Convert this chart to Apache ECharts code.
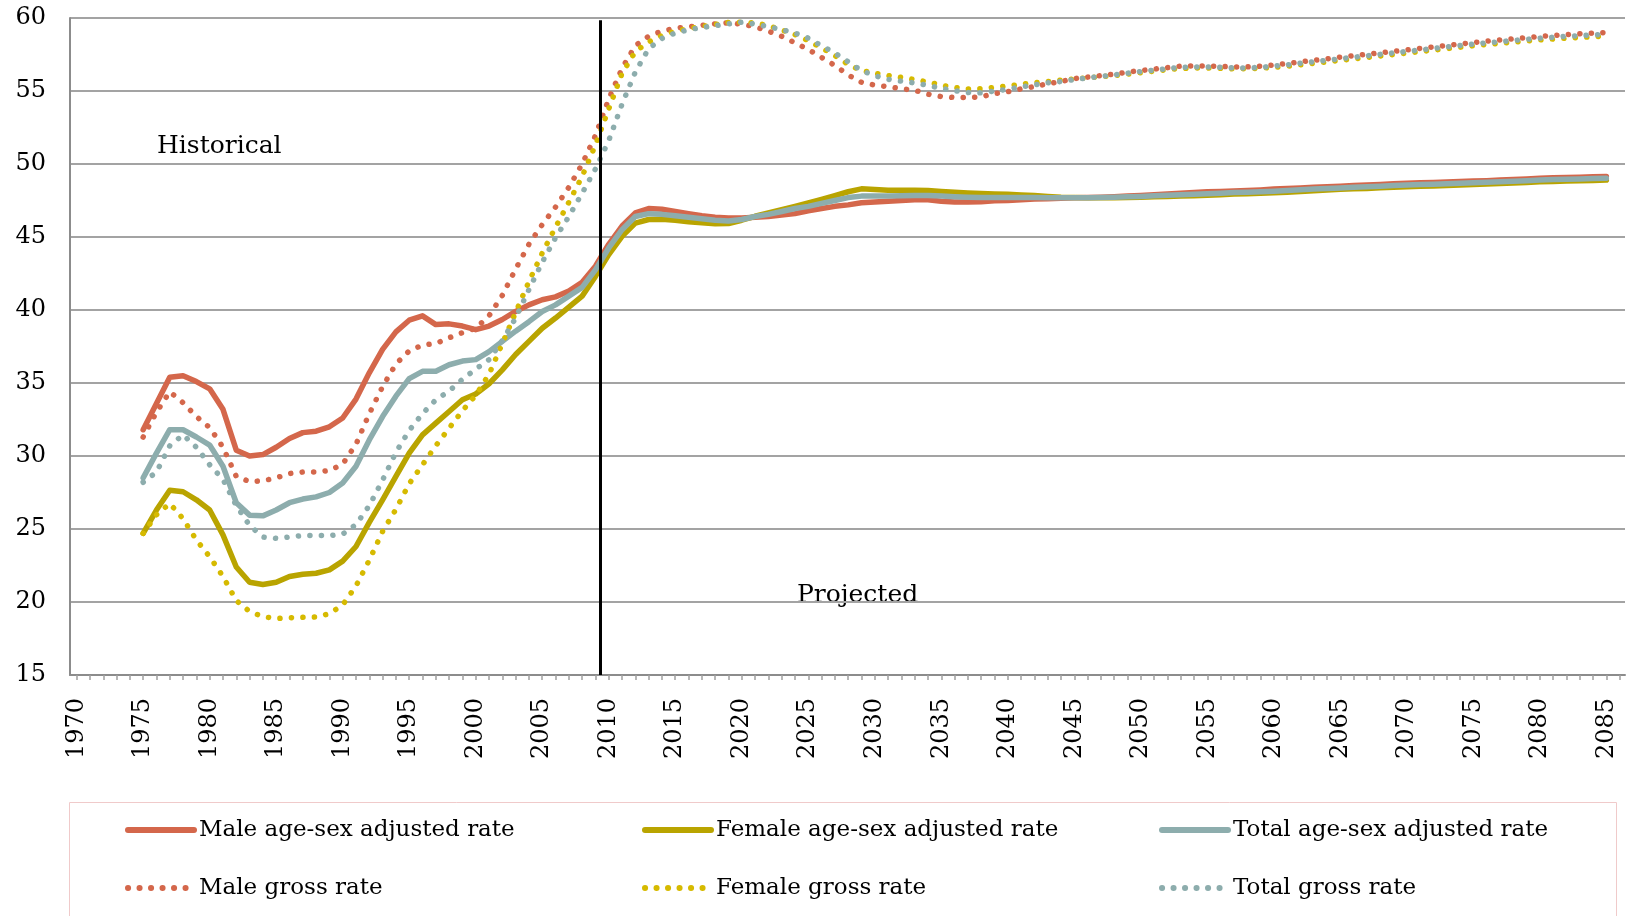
<!DOCTYPE html>
<html><head><meta charset="utf-8">
<script src="https://cdn.jsdelivr.net/npm/echarts@6/dist/echarts.min.js"></script>
<style>html,body{margin:0;padding:0;background:#fff}#c{width:1627px;height:916px}</style>
</head><body><div id="c"></div>
<script>
const FIRST_YEAR = 1975, LAST_YEAR = 2085;
const labelYears = [1970,1975,1980,1985,1990,1995,2000,2005,2010,2015,2020,2025,2030,2035,2040,2045,2050,2055,2060,2065,2070,2075,2080,2085];
const yTicks = [15,20,25,30,35,40,45,50,55,60];
const dividerYear = 2009.4;
const seriesNames = ['Male age-sex adjusted rate','Female age-sex adjusted rate','Total age-sex adjusted rate','Male gross rate','Female gross rate','Total gross rate'];

// 1975 .. 2085
const maleAdjusted = [
31.8,33.6,35.4,35.5,35.1,34.6,33.2,30.4,30.0,30.1,
30.6,31.2,31.6,31.7,32.0,32.6,33.9,35.7,37.3,38.5,
39.3,39.6,39.0,39.05,38.9,38.65,38.9,39.35,39.9,40.35,
40.7,40.9,41.3,41.9,43.0,44.5,45.75,46.65,46.95,46.9,
46.75,46.6,46.45,46.35,46.3,46.3,46.35,46.4,46.5,46.6,
46.8,46.95,47.1,47.2,47.35,47.4,47.45,47.5,47.55,47.55,
47.45,47.4,47.4,47.42,47.48,47.5,47.55,47.6,47.62,47.65,
47.68,47.7,47.72,47.75,47.8,47.85,47.9,47.95,48.0,48.05,
48.1,48.12,48.15,48.18,48.22,48.28,48.32,48.36,48.4,48.44,
48.48,48.52,48.56,48.6,48.64,48.68,48.71,48.74,48.77,48.8,
48.83,48.86,48.9,48.94,48.98,49.02,49.05,49.08,49.1,49.12,
49.15];
const femaleAdjusted = [
24.7,26.3,27.65,27.55,27.0,26.3,24.6,22.4,21.35,21.2,
21.35,21.75,21.9,21.97,22.2,22.8,23.8,25.45,27.0,28.6,
30.2,31.45,32.25,33.05,33.85,34.25,34.95,35.9,36.95,37.85,
38.75,39.45,40.2,40.95,42.3,43.8,45.05,45.95,46.2,46.22,
46.15,46.05,45.97,45.9,45.92,46.15,46.42,46.65,46.88,47.1,
47.33,47.58,47.83,48.1,48.3,48.25,48.2,48.2,48.2,48.18,
48.12,48.06,48.02,47.98,47.95,47.92,47.88,47.84,47.78,47.72,
47.7,47.68,47.68,47.68,47.7,47.72,47.75,47.78,47.8,47.83,
47.86,47.9,47.94,47.97,48.0,48.03,48.07,48.12,48.17,48.22,
48.27,48.3,48.33,48.37,48.4,48.44,48.47,48.5,48.53,48.56,
48.6,48.63,48.66,48.7,48.74,48.78,48.8,48.83,48.85,48.87,
48.9];
const totalAdjusted = [
28.5,30.2,31.8,31.8,31.3,30.75,29.3,26.8,25.95,25.9,
26.3,26.8,27.05,27.2,27.5,28.15,29.3,31.1,32.7,34.1,
35.3,35.8,35.8,36.25,36.5,36.6,37.15,37.85,38.55,39.2,
39.9,40.35,40.95,41.55,42.75,44.25,45.5,46.4,46.6,46.55,
46.45,46.35,46.25,46.15,46.1,46.2,46.4,46.55,46.75,46.95,
47.1,47.3,47.5,47.7,47.8,47.8,47.8,47.82,47.85,47.85,
47.8,47.75,47.72,47.7,47.7,47.7,47.7,47.7,47.68,47.68,
47.68,47.68,47.7,47.72,47.75,47.78,47.82,47.86,47.9,47.93,
47.97,48.0,48.04,48.07,48.1,48.14,48.18,48.23,48.28,48.32,
48.36,48.4,48.44,48.48,48.52,48.56,48.59,48.62,48.65,48.68,
48.72,48.75,48.78,48.82,48.86,48.9,48.93,48.96,48.98,49.0,
49.02];
const maleGross = [
31.3,33.0,34.4,33.65,32.7,31.95,30.6,28.6,28.25,28.3,
28.5,28.8,28.9,28.9,29.0,29.45,30.8,32.9,34.75,36.3,
37.2,37.6,37.7,38.1,38.45,38.75,39.6,41.0,42.8,44.5,
45.85,47.05,48.4,50.0,51.95,54.45,56.55,58.1,58.75,59.1,
59.3,59.4,59.5,59.6,59.67,59.58,59.4,59.1,58.75,58.3,
57.85,57.3,56.75,56.1,55.6,55.4,55.3,55.15,55.05,54.78,
54.62,54.55,54.55,54.6,54.82,54.95,55.15,55.3,55.5,55.65,
55.85,55.95,56.05,56.15,56.3,56.4,56.5,56.6,56.7,56.72,
56.72,56.68,56.65,56.65,56.7,56.78,56.88,57.0,57.1,57.2,
57.32,57.42,57.52,57.62,57.72,57.82,57.92,58.02,58.12,58.22,
58.32,58.42,58.5,58.58,58.66,58.74,58.8,58.86,58.92,58.97,
59.0];
const femaleGross = [
24.7,25.97,26.75,25.7,24.25,23.1,21.75,20.1,19.35,19.0,
18.87,18.92,18.95,18.97,19.2,19.8,21.1,22.87,24.83,26.35,
28.1,29.4,30.7,31.9,33.1,34.15,35.6,37.7,39.83,41.95,
43.9,45.67,47.38,49.15,51.3,53.77,56.2,57.7,58.36,58.8,
59.1,59.27,59.42,59.55,59.7,59.72,59.66,59.48,59.18,58.87,
58.45,57.95,57.43,56.82,56.4,56.22,56.06,55.93,55.78,55.62,
55.4,55.24,55.14,55.16,55.25,55.34,55.46,55.56,55.65,55.75,
55.82,55.9,55.98,56.06,56.16,56.26,56.36,56.46,56.54,56.58,
56.58,56.55,56.52,56.52,56.56,56.62,56.7,56.8,56.9,57.0,
57.1,57.2,57.3,57.4,57.5,57.6,57.7,57.8,57.9,58.0,
58.1,58.18,58.26,58.34,58.42,58.5,58.56,58.62,58.67,58.72,
58.76];
const totalGross = [
28.2,28.9,30.7,31.45,30.6,29.4,28.4,26.6,25.25,24.45,
24.37,24.45,24.55,24.55,24.55,24.65,25.3,26.6,28.35,30.25,
31.75,32.9,33.85,34.45,35.25,35.95,36.6,37.9,39.45,41.4,
43.27,44.95,46.4,48.0,49.66,51.6,54.1,56.3,57.9,58.6,
58.97,59.2,59.35,59.47,59.6,59.71,59.58,59.4,59.2,58.97,
58.62,58.1,57.6,57.0,56.4,56.05,55.8,55.67,55.55,55.38,
55.18,55.02,54.9,54.87,55.0,55.12,55.28,55.42,55.56,55.65,
55.78,55.9,56.0,56.1,56.22,56.33,56.43,56.53,56.62,56.65,
56.65,56.62,56.58,56.58,56.62,56.7,56.79,56.9,57.0,57.1,
57.21,57.31,57.41,57.51,57.61,57.71,57.81,57.91,58.01,58.11,
58.21,58.3,58.38,58.46,58.54,58.62,58.68,58.74,58.79,58.84,
58.88];

const years = [];
for (let y = FIRST_YEAR; y <= LAST_YEAR; y++) years.push(y);
const tickYears = [];
for (let y = 1970; y <= 2086; y++) tickYears.push(y);
const pairs = arr => arr.map((v, i) => [years[i], v]);

const RED = '#D4674B', OLIVE = '#B9A400', YELLOW = '#D6BA00', TEAL = '#8DADAD';
const FONT = 'DejaVu Serif';

function mk(name, data, color, dotted) {
  return {
    name, type: 'line', data: pairs(data), symbol: 'none', showSymbol: false,
    lineStyle: dotted ? {color, width: 5.5, type: [0.1, 11.4], cap: 'round'}
                      : {color, width: 5.5, cap: 'round', join: 'round'},
    itemStyle: {color}, emphasis: {disabled: true}, silent: true
  };
}

const series = [
  mk(seriesNames[0], maleAdjusted, RED, false),
  mk(seriesNames[1], femaleAdjusted, OLIVE, false),
  mk(seriesNames[2], totalAdjusted, TEAL, false),
  mk(seriesNames[3], maleGross, RED, true),
  mk(seriesNames[4], femaleGross, YELLOW, true),
  mk(seriesNames[5], totalGross, TEAL, true)
];
series[0].markLine = {
  silent: true, symbol: ['none', 'none'], label: {show: false},
  lineStyle: {color: '#000', width: 3, type: 'solid'},
  data: [[{coord: [dividerYear, 15]}, {coord: [dividerYear, 59.85]}]]
};

const chart = echarts.init(document.getElementById('c'), null, {renderer: 'canvas'});
chart.setOption({
  animation: false,
  backgroundColor: '#fff',
  grid: {left: 70, right: 2, top: 18, bottom: 241, containLabel: false},
  xAxis: {
    type: 'value', min: 1969.5, max: 2086.4,
    axisLine: {show: true, onZero: false, lineStyle: {color: '#8c8c8c', width: 2}},
    axisTick: {show: true, customValues: tickYears, length: 5, lineStyle: {color: '#a0a0a0', width: 1.5}},
    axisLabel: {customValues: labelYears, rotate: 90, margin: 23, fontFamily: FONT, fontSize: 24, color: '#000',
      formatter: v => String(v)},
    splitLine: {show: false}
  },
  yAxis: {
    type: 'value', min: yTicks[0], max: yTicks[yTicks.length - 1], interval: 5,
    axisLine: {show: true, lineStyle: {color: '#8c8c8c', width: 2}},
    axisTick: {show: false},
    axisLabel: {fontFamily: FONT, fontSize: 24, color: '#000', margin: 24},
    splitLine: {lineStyle: {color: '#a3a3a3', width: 2}}
  },
  legend: {
    left: 125, top: 801, width: 1560, itemWidth: 66, itemHeight: 14, itemGap: 0, padding: 0,
    selectedMode: false,
    itemStyle: {opacity: 0},
    lineStyle: {width: 6},
    textStyle: {fontFamily: FONT, fontSize: 23, color: '#000', width: 443, lineHeight: 58},
    data: seriesNames
  },
  graphic: [
    {type: 'rect', silent: true, z: -1, shape: {x: 69.5, y: 802.5, width: 1547, height: 200},
      style: {fill: 'none', stroke: '#f0caca', lineWidth: 1}},
    {type: 'text', x: 157, y: 146, style: {text: 'Historical', font: '25px "DejaVu Serif"', fill: '#000', verticalAlign: 'middle'}},
    {type: 'text', x: 797, y: 595, style: {text: 'Projected', font: '25px "DejaVu Serif"', fill: '#000', verticalAlign: 'middle'}}
  ],
  series
});
</script>
</body></html>
